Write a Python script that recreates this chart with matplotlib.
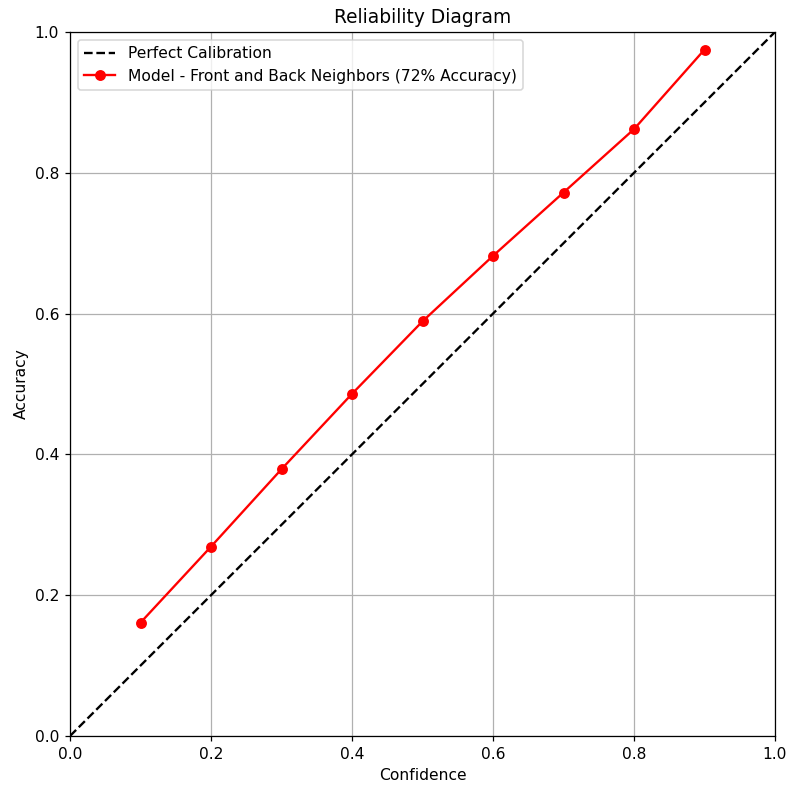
import matplotlib.pyplot as plt
import numpy as np

# calibration bins
confidence = [0.1, 0.2, 0.3, 0.4, 0.5, 0.6, 0.7, 0.8, 0.9]
accuracy = [0.161, 0.269, 0.379, 0.486, 0.589, 0.682, 0.772, 0.862, 0.975]
diag = [0, 1]

dpi = 112
fig = plt.figure(figsize=(790 / dpi, 785 / dpi), dpi=dpi)
ax = fig.add_axes([70 / 790, 49 / 785, 705 / 790, 704 / 785])

ax.plot(diag, diag, "k--", label="Perfect Calibration")
ax.plot(confidence, accuracy, "o-", color="red",
        label="Model - Front and Back Neighbors (72% Accuracy)")

ax.set_xlim(0, 1)
ax.set_ylim(0, 1)
ax.set_xlabel("Confidence")
ax.set_ylabel("Accuracy")
ax.set_title("Reliability Diagram")
ax.legend(loc="upper left")
ax.grid(True)

plt.savefig("out.png", dpi=dpi)
